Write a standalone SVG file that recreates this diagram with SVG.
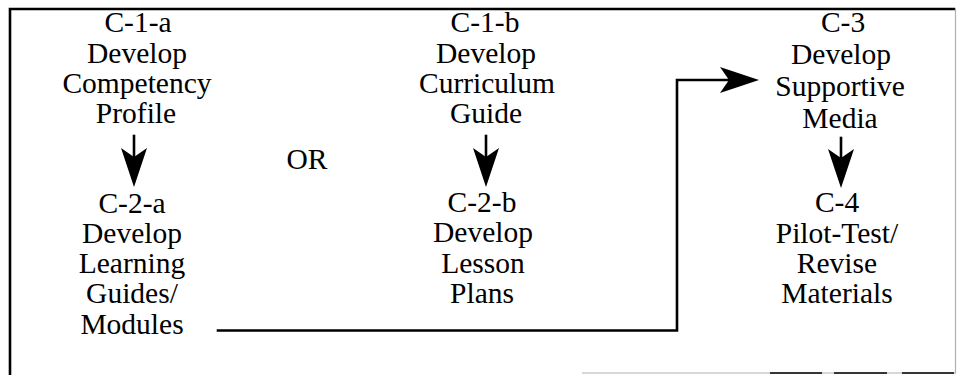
<svg xmlns="http://www.w3.org/2000/svg" xmlns:xlink="http://www.w3.org/1999/xlink" width="957" height="375" viewBox="0 0 957 375">
<style>
text{font-size:29.5px;fill:#000;text-anchor:middle}
.ln{fill:none;stroke:#000;stroke-width:2.6;stroke-linecap:square}
.frame{fill:none;stroke:#000;stroke-width:2.6}
.thin{fill:none;stroke:#b0b0b0;stroke-width:1.2}
.thinb{fill:none;stroke:#000;stroke-width:1.6}
</style>
<defs>
<path id="ah" d="M0,0 L-39,-13 L-30,0 L-39,13 Z" fill="#000"/>
</defs>
<rect width="957" height="375" fill="#fff"/>
<g id="frame">
<path class="frame" d="M10,375 V9 H955"/>
<path class="thin" d="M955.5,8 V373 H582"/>
<path class="thinb" d="M770,373 H822 M834,373 H887 M902,373 H954"/>
</g>
<g font-family="'Liberation Serif', 'Times New Roman', 'DejaVu Serif', serif">
<g id="c1a">
<text x="138" y="32">C-1-a</text>
<text x="137" y="63">Develop</text>
<text x="137" y="93">Competency</text>
<text x="136" y="123">Profile</text>
</g>
<g id="c2a">
<text x="132" y="213">C-2-a</text>
<text x="132" y="243">Develop</text>
<text x="132" y="273">Learning</text>
<text x="132" y="303">Guides/</text>
<text x="132" y="334">Modules</text>
</g>
<g id="or">
<text x="307" y="169">OR</text>
</g>
<g id="c1b">
<text x="485" y="32">C-1-b</text>
<text x="486" y="63">Develop</text>
<text x="487" y="93">Curriculum</text>
<text x="486" y="123">Guide</text>
</g>
<g id="c2b">
<text x="482" y="212">C-2-b</text>
<text x="483" y="242">Develop</text>
<text x="483" y="273">Lesson</text>
<text x="482" y="303">Plans</text>
</g>
<g id="c3">
<text x="843" y="32">C-3</text>
<text x="841" y="64">Develop</text>
<text x="840" y="96">Supportive</text>
<text x="840" y="128">Media</text>
</g>
<g id="c4">
<text x="837" y="212">C-4</text>
<text x="837" y="243">Pilot-Test/</text>
<text x="837" y="273">Revise</text>
<text x="837" y="303">Materials</text>
</g>
</g>
<g id="connectors">
<path class="ln" d="M134,136 V160"/>
<use xlink:href="#ah" transform="translate(134,187) rotate(90)"/>
<path class="ln" d="M486,136 V160"/>
<use xlink:href="#ah" transform="translate(486,187) rotate(90)"/>
<path class="ln" d="M841,138 V160"/>
<use xlink:href="#ah" transform="translate(841,188) rotate(90)"/>
<path class="ln" d="M218,330.5 H677 V80 H730"/>
<use xlink:href="#ah" transform="translate(759,80)"/>
</g>
</svg>
